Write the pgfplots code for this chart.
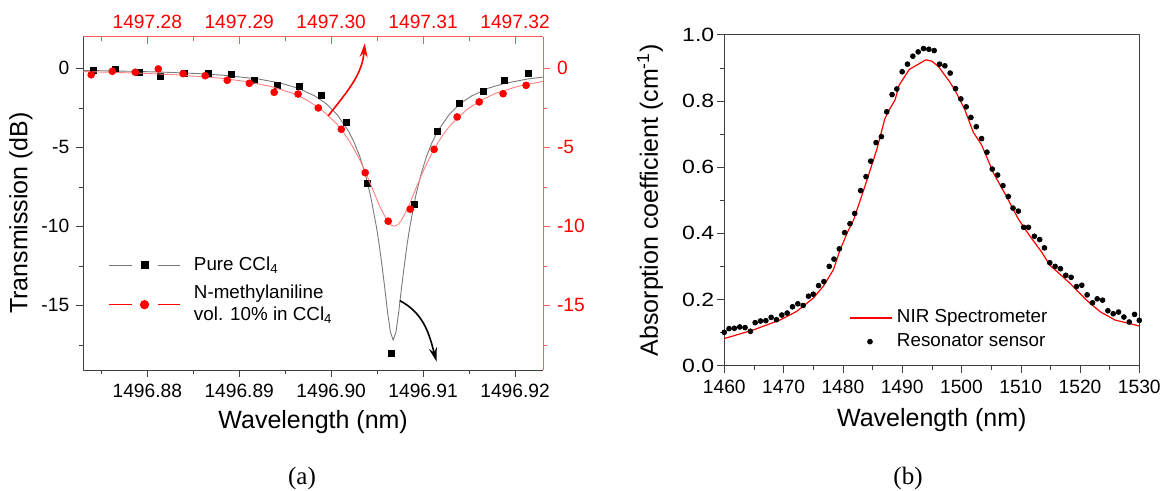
\documentclass[border=0pt]{standalone}
\usepackage{fontspec}
\setmainfont{Liberation Sans}
\newfontfamily\timesfont{Liberation Serif}
\newfontfamily\widesans{Liberation Sans}[FakeStretch=1.2]
\usepackage{pgfplots}
\pgfplotsset{compat=1.18}
\usepackage{pgfplotstable}
\usetikzlibrary{arrows.meta}

\definecolor{axred}{HTML}{FF5A5A}
\definecolor{fitred}{HTML}{FF8080}
\definecolor{fitgray}{HTML}{7A7A7A}
\definecolor{axgray}{HTML}{404040}
\definecolor{nirred}{HTML}{FF0000}

% panel (a): x is the offset in nm from 1496.90 (bottom axis, pure CCl4)
% and from 1497.30 (top axis, N-methylaniline); y in dB
\pgfplotstableread{
dl       T
-0.0259  -0.15
-0.0235  -0.04
-0.0209  -0.28
-0.0186  -0.51
-0.0160  -0.32
-0.0133  -0.30
-0.0109  -0.41
-0.0084  -0.78
-0.0059  -1.07
-0.0035  -1.16
-0.0011  -1.73
 0.0017  -3.44
 0.0039  -7.28
 0.0065  -18.04
 0.0090  -8.59
 0.0116  -4.01
 0.0140  -2.24
 0.0166  -1.44
 0.0188  -0.74
 0.0215  -0.32
}\pureccl

\pgfplotstableread{
dl       T
-0.02700 -0.137
-0.02371 -0.167
-0.02066 -0.205
-0.01762 -0.258
-0.01457 -0.334
-0.01153 -0.449
-0.00788 -0.68
-0.00544 -0.95
-0.00361 -1.26
-0.00179 -1.75
-0.00057 -2.23
 0.00065 -2.93
 0.00187 -3.96
 0.00248 -4.66
 0.00309 -5.55
 0.00370 -6.67
 0.00430 -8.12
 0.00491 -10.0
 0.00522 -11.15
 0.00552 -12.46
 0.00583 -13.91
 0.00613 -15.42
 0.00644 -16.70
 0.00674 -17.20
 0.00705 -16.70
 0.00735 -15.42
 0.00765 -13.91
 0.00796 -12.46
 0.00826 -11.15
 0.00857 -10.0
 0.00918 -8.12
 0.00979 -6.67
 0.01039 -5.55
 0.01100 -4.66
 0.01161 -3.96
 0.01283 -2.93
 0.01405 -2.23
 0.01527 -1.75
 0.01709 -1.26
 0.01892 -0.95
 0.02136 -0.68
 0.02306 -0.555
}\purefit

\pgfplotstableread{
dl       T
-0.0261  -0.41
-0.0238  -0.19
-0.0213  -0.25
-0.0188  -0.04
-0.0161  -0.34
-0.0137  -0.47
-0.0113  -0.76
-0.0089  -0.95
-0.0062  -1.52
-0.0036  -1.63
-0.0014  -2.51
 0.0011  -3.86
 0.0037  -6.61
 0.0062  -9.68
 0.0086  -8.92
 0.0112  -5.13
 0.0137  -3.08
 0.0161  -2.13
 0.0187  -1.61
 0.0212  -1.08
}\methyl

\pgfplotstableread{
dl       T
-0.02701 -0.208
-0.02090 -0.305
-0.01694 -0.41
-0.01218 -0.62
-0.00933 -0.83
-0.00663 -1.14
-0.00425 -1.57
-0.00267 -2.00
-0.00108 -2.60
 0.00051 -3.46
 0.00130 -4.02
 0.00209 -4.71
 0.00289 -5.53
 0.00368 -6.50
 0.00447 -7.59
 0.00526 -8.71
 0.00606 -9.63
 0.00645 -9.91
 0.00685 -10.0
 0.00725 -9.91
 0.00764 -9.63
 0.00844 -8.71
 0.00923 -7.59
 0.01002 -6.50
 0.01082 -5.53
 0.01161 -4.71
 0.01240 -4.02
 0.01319 -3.46
 0.01478 -2.60
 0.01637 -2.00
 0.01795 -1.57
 0.02033 -1.14
 0.02303 -0.83
}\methylfit

% panel (b)
\pgfplotstableread{
wl      a
1460.0  0.082
1464.9  0.108
1469.4  0.138
1472.2  0.164
1475.0  0.204
1476.7  0.240
1478.4  0.290
1479.5  0.349
1480.9  0.408
1481.8  0.440
1483.7  0.541
1485.7  0.652
1487.1  0.747
1487.8  0.772
1488.8  0.803
1489.5  0.848
1491.2  0.895
1494.0  0.924
1495.0  0.920
1496.1  0.904
1497.8  0.863
1498.9  0.833
1500.6  0.772
1502.0  0.705
1503.4  0.667
1505.4  0.582
1507.6  0.511
1509.6  0.443
1511.6  0.390
1513.5  0.344
1514.9  0.304
1518.3  0.249
1521.1  0.198
1523.4  0.163
1525.9  0.138
1530.0  0.120
}\nir

\pgfplotstableread{
wl      a
1460.0  0.101
1460.8  0.112
1461.7  0.113
1462.6  0.117
1463.5  0.115
1464.4  0.104
1465.2  0.130
1466.1  0.135
1467.0  0.136
1467.9  0.146
1468.8  0.139
1469.7  0.153
1470.6  0.159
1471.5  0.178
1472.4  0.187
1473.3  0.182
1474.2  0.210
1475.0  0.216
1475.9  0.242
1476.8  0.254
1477.7  0.300
1478.5  0.322
1479.4  0.353
1480.3  0.402
1481.2  0.429
1482.0  0.460
1483.0  0.529
1483.9  0.571
1484.7  0.618
1485.6  0.674
1486.5  0.692
1487.4  0.767
1488.3  0.819
1489.1  0.836
1490.0  0.888
1490.9  0.911
1491.8  0.935
1492.7  0.948
1493.6  0.958
1494.5  0.956
1495.4  0.952
1496.3  0.911
1497.2  0.906
1498.1  0.884
1499.0  0.837
1499.9  0.806
1500.8  0.782
1501.6  0.750
1502.5  0.722
1503.4  0.686
1504.3  0.645
1505.2  0.594
1506.1  0.576
1507.0  0.544
1507.9  0.511
1508.7  0.476
1509.6  0.467
1510.5  0.418
1511.3  0.418
1512.3  0.391
1513.2  0.381
1514.0  0.356
1514.9  0.311
1515.8  0.300
1516.7  0.293
1517.6  0.273
1518.5  0.267
1519.4  0.239
1520.3  0.243
1521.2  0.214
1522.1  0.190
1522.9  0.202
1523.8  0.198
1524.7  0.166
1525.6  0.157
1526.5  0.162
1527.4  0.147
1528.3  0.132
1529.2  0.155
1530.0  0.137
}\resonator

\begin{document}
\begin{tikzpicture}[x=1pt,y=1pt]
\path[use as bounding box] (0,0) rectangle (582.5,245.5);
\pgfplotsset{
  every axis/.append style={
    scale only axis,
    font=\fontsize{9.4}{11}\selectfont,
    tick label style={font=\fontsize{9.6}{11}\selectfont},
    label style={font=\fontsize{12.5}{15}\selectfont},
    major tick length=3.5pt, minor tick length=2pt,
    tick align=outside,
  },
  panela/.style={
    at={(41.65pt,60.5pt)}, anchor=south west,
    width=229.85pt, height=166.65pt,
    xmin=-0.02696, xmax=0.02304, ymin=-19.1, ymax=2,
    scaled x ticks=false, scaled y ticks=false,
    xtick={-0.02,-0.01,0,0.01,0.02},
    minor xtick={-0.025,-0.015,-0.005,0.005,0.015},
    ytick={-15,-10,-5,0}, yticklabels={-15,-10,-5,0},
    minor ytick={-17.5,-12.5,-7.5,-2.5},
  },
}

% panel (a), bottom / left axes: pure CCl4
\begin{axis}[panela,
  axis x line*=bottom, axis y line*=left,
  axis line style={axgray}, tick style={axgray},
  xticklabels={1496.88,1496.89,1496.90,1496.91,1496.92},
  xlabel={Wavelength (nm)}, ylabel={Transmission (dB)},
  xlabel style={at={(axis description cs:0.5,-0.156)}, anchor=center},
  ylabel style={at={(axis description cs:-0.1355,0.471)}, anchor=center},
]
\addplot[fitgray, line width=0.45pt] table[x=dl, y=T] {\purefit};
\addplot[only marks, mark=square*, mark size=1.5pt, black] table[x=dl, y=T] {\pureccl};
\draw[black, line width=0.8pt, -{Stealth[length=7pt, width=4pt]}]
  (axis cs:0.00747,-14.71) to[out=-28, in=105] (axis cs:0.01146,-18.57);
\end{axis}

% panel (a), top / right axes: N-methylaniline 10 vol.% in CCl4
\begin{axis}[panela,
  axis x line*=top, axis y line*=right,
  axis line style={axred}, tick style={axred},
  ticklabel style={red},
  xticklabels={1497.28,1497.29,1497.30,1497.31,1497.32},
  xticklabel style={yshift=-3pt},
  major x tick style={yshift=-3.5pt}, minor x tick style={yshift=-2pt},
  legend style={at={(0.04,0.365)}, anchor=north west, draw=none, fill=none,
    font=\fontsize{9.4}{11}\selectfont, row sep=2pt,
    cells={anchor=west, align=left},
    /tikz/every odd column/.append style={column sep=5pt}},
  legend cell align=left,
]
\addlegendimage{legend image code/.code={
  \draw[fitgray, line width=0.45pt] (0pt,0pt) -- (11.5pt,0pt) (24.5pt,0pt) -- (35.5pt,0pt);
  \fill[black] (16.5pt,-1.6pt) rectangle (19.7pt,1.6pt);}}
\addlegendentry{Pure CCl\textsubscript{4}}
\addlegendimage{legend image code/.code={
  \draw[red, line width=0.45pt] (0pt,0pt) -- (11.5pt,0pt) (24.5pt,0pt) -- (35.5pt,0pt);
  \fill[red] (18pt,0pt) circle (2.1pt);}}
\addlegendentry{N-methylaniline\\vol. 10\% in CCl\textsubscript{4}}
\addplot[fitred, line width=0.45pt, forget plot] table[x=dl, y=T] {\methylfit};
\addplot[only marks, mark=*, mark size=1.7pt, red, forget plot] table[x=dl, y=T] {\methyl};
\draw[red, line width=0.8pt, -{Stealth[length=7pt, width=4pt]}]
  (axis cs:-0.00033,-3.02) to[out=52, in=-95] (axis cs:0.00366,1.58);
\end{axis}

% panel (b)
\begin{axis}[
  at={(362.15pt,62.65pt)}, anchor=south west,
  width=207.5pt, height=165.5pt,
  xmin=1460, xmax=1530, ymin=0, ymax=1,
  tick pos=left,
  axis line style={axgray}, tick style={axgray},
  xtick={1460,1470,1480,1490,1500,1510,1520,1530}, minor x tick num=1,
  ytick={0,0.2,0.4,0.6,0.8,1}, minor y tick num=1,
  /pgf/number format/assume math mode=true,
  /pgf/number format/1000 sep={},
  yticklabel style={font=\widesans\fontsize{9.6}{11}\selectfont, xshift=2pt,
    /pgf/number format/.cd, fixed, fixed zerofill, precision=1},
  xlabel={Wavelength (nm)},
  ylabel={Absorption coefficient (cm\textsuperscript{-1})},
  xlabel style={at={(axis description cs:0.5,-0.164)}, anchor=center},
  ylabel style={at={(axis description cs:-0.179,0.5)}, anchor=center},
  legend style={at={(0.285,0.195)}, anchor=north west, draw=none, fill=none,
    font=\fontsize{9.4}{11}\selectfont, cells={anchor=west}},
  legend cell align=left,
]
\addlegendimage{legend image code/.code={
  \draw[draw=nirred, line width=1pt] (0pt,0pt) -- (21pt,0pt);}}
\addlegendentry{NIR Spectrometer}
\addlegendimage{legend image code/.code={
  \fill[black] (10pt,0pt) circle (1.2pt);}}
\addlegendentry{Resonator sensor}
\addplot[nirred, line width=0.6pt, forget plot] table[x=wl, y=a] {\nir};
\addplot[only marks, mark=*, mark size=1.2pt, black, forget plot]
  table[x=wl, y=a] {\resonator};
\end{axis}

\node[font=\timesfont\fontsize{12.5}{15}\selectfont] at (151,6.5) {(a)};
\node[font=\timesfont\fontsize{12.5}{15}\selectfont] at (454,6.5) {(b)};
\end{tikzpicture}
\end{document}
